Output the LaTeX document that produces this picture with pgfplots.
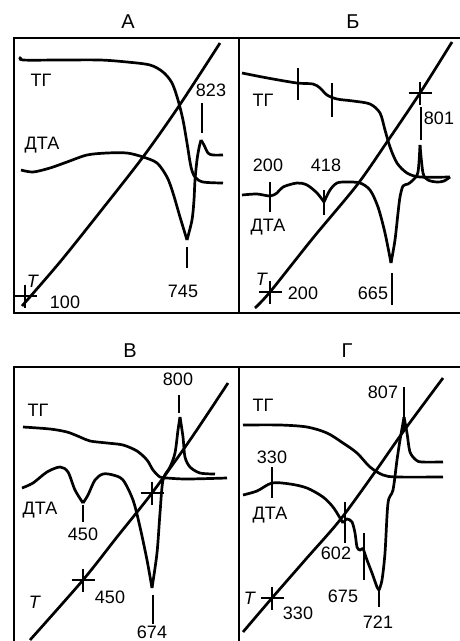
\documentclass[border=0pt]{standalone}
\usepackage{fontspec}
\setmainfont{Liberation Sans}
\usepackage{pgfplots}
\pgfplotsset{compat=1.18}
\begin{document}
\fontsize{18}{21}\selectfont
\begin{tikzpicture}[font=\fontsize{18}{21}\selectfont]
\useasboundingbox (0,0) rectangle (460pt,641pt);
\begin{axis}[
  scale only axis, width=460pt, height=641pt,
  xmin=0, xmax=460, ymin=0, ymax=641, y dir=reverse,
  hide axis, clip=false,
  curve/.style={line width=2.7pt, smooth, tension=0.5, mark=none, black},
  thin/.style={line width=1.1pt, mark=none, black},
  frame/.style={line width=2pt, mark=none, black},
  cross/.style={only marks, mark=+, mark size=11.5pt, mark options={line width=1.1pt}, black},
]
% frames
\addplot[frame] coordinates {(460,38) (14,38) (14,313) (460,313)};
\addplot[frame] coordinates {(239,38) (239,313)};
\addplot[frame] coordinates {(460,367) (14,367) (14,641)};
\addplot[frame] coordinates {(239,367) (239,641)};
% titles
\node[font=\fontsize{20}{23}\selectfont] at (axis cs:128,22) {А};
\node[font=\fontsize{20}{23}\selectfont] at (axis cs:353,22) {Б};
\node[font=\fontsize{20}{23}\selectfont] at (axis cs:130,351) {В};
\node[font=\fontsize{20}{23}\selectfont] at (axis cs:347,351) {Г};

% ===== Panel A =====
\addplot[curve] coordinates {(22,306) (60,262) (100,212) (143,157) (179,106) (220,43)};
\addplot[curve] coordinates {(21,57) (23,60) (60,60) (100,60) (127,62) (150,65) (163,72) (172,83) (178,100) (183,120) (187,143) (191,167) (195,177) (203,182) (223,183)};
\addplot[curve] coordinates {(21,170) (33,172) (50,168) (67,162) (87,155) (107,153) (127,153) (143,157) (157,163) (167,177) (173,193) (180,217) (187,240)};
\addplot[curve] coordinates {(187,240) (192,220) (194,200) (195,180) (197,160) (199,148) (201,140)};
\addplot[curve] coordinates {(201,140) (204,145) (208,153) (213,155) (223,155)};
\addplot[cross] coordinates {(25,296)};
\addplot[thin] coordinates {(187,247) (187,268)};
\addplot[thin] coordinates {(202,103) (202,133)};
\node[font=\fontsize{18}{21}\selectfont] at (axis cs:41,80) {ТГ};
\node[font=\fontsize{18}{21}\selectfont] at (axis cs:42,145) {ДТА};
\node[font=\fontsize{18}{21}\selectfont] at (axis cs:33,281) {\textit{T}};
\node[font=\fontsize{18}{21}\selectfont] at (axis cs:65,302) {100};
\node[font=\fontsize{18}{21}\selectfont] at (axis cs:183,291) {745};
\node[font=\fontsize{18}{21}\selectfont] at (axis cs:211,90) {823};

% ===== Panel B =====
\addplot[curve] coordinates {(255,308) (270,292) (313,238) (357,185) (387,142) (420,93) (452,42)};
\addplot[curve] coordinates {(242,73) (257,76) (273,79) (297,83) (313,84) (320,88) (327,95) (337,99) (353,101) (370,104) (380,113) (385,130) (390,147) (397,163) (407,173) (420,177) (450,177)};
\addplot[curve] coordinates {(242,195) (257,194) (270,196) (277,193) (283,187) (297,183) (307,185) (317,193) (324,202)};
\addplot[curve] coordinates {(324,202) (330,190) (337,183) (347,182) (360,183) (370,190) (378,207) (385,233) (391,263)};
\addplot[curve] coordinates {(391,263) (395,240) (398,213) (400,197) (403,186) (408,184) (413,180) (418,172) (420,145)};
\addplot[curve] coordinates {(420,145) (423,173) (428,180) (437,182) (444,181) (450,177)};
\addplot[cross] coordinates {(270,292) (420,93)};
\addplot[thin] coordinates {(298,68) (298,100)};
\addplot[thin] coordinates {(332,83) (332,117)};
\addplot[thin] coordinates {(421,107) (421,140)};
\addplot[thin] coordinates {(270,182) (270,212)};
\addplot[thin] coordinates {(324,190) (324,215)};
\addplot[thin] coordinates {(392,273) (392,305)};
\node[font=\fontsize{18}{21}\selectfont] at (axis cs:263,100) {ТГ};
\node[font=\fontsize{18}{21}\selectfont] at (axis cs:268,227) {ДТА};
\node[font=\fontsize{18}{21}\selectfont] at (axis cs:268,165) {200};
\node[font=\fontsize{18}{21}\selectfont] at (axis cs:326,165) {418};
\node[font=\fontsize{18}{21}\selectfont] at (axis cs:439,118) {801};
\node[font=\fontsize{18}{21}\selectfont] at (axis cs:373,293) {665};
\node[font=\fontsize{18}{21}\selectfont] at (axis cs:262,279) {\textit{T}};
\node[font=\fontsize{18}{21}\selectfont] at (axis cs:303,293) {200};

% ===== Panel V =====
\addplot[curve] coordinates {(30,640) (83,580) (117,537) (152,493) (190,440) (228,383)};
\addplot[curve] coordinates {(23,427) (50,429) (67,432) (80,437) (90,441) (107,443) (123,445) (137,451) (147,460) (153,470) (160,477) (167,478) (187,479) (227,478)};
\addplot[curve] coordinates {(22,488) (33,483) (47,472) (60,467) (68,472) (75,490) (83,503)};
\addplot[curve] coordinates {(83,503) (88,495) (95,480) (103,474) (113,475) (123,480) (133,500) (140,527) (147,560) (152,588)};
\addplot[curve] coordinates {(152,588) (157,553) (160,513) (163,480) (170,467) (175,453) (178,430) (180,417)};
\addplot[curve] coordinates {(180,417) (183,437) (185,457) (190,467) (200,473) (215,474)};
\addplot[cross] coordinates {(83,580) (152,493)};
\addplot[thin] coordinates {(83,505) (83,522)};
\addplot[thin] coordinates {(153,595) (153,624)};
\addplot[thin] coordinates {(179,395) (179,413)};
\node[font=\fontsize{18}{21}\selectfont] at (axis cs:38,410) {ТГ};
\node[font=\fontsize{18}{21}\selectfont] at (axis cs:40,510) {ДТА};
\node[font=\fontsize{18}{21}\selectfont] at (axis cs:83,534) {450};
\node[font=\fontsize{18}{21}\selectfont] at (axis cs:110,597) {450};
\node[font=\fontsize{18}{21}\selectfont] at (axis cs:35,602) {\textit{T}};
\node[font=\fontsize{18}{21}\selectfont] at (axis cs:152,632) {674};
\node[font=\fontsize{18}{21}\selectfont] at (axis cs:178,379) {800};

% ===== Panel G =====
\addplot[curve] coordinates {(243,632) (272,598) (306,559) (340,520) (375,472) (403,432) (443,378)};
\addplot[curve] coordinates {(243,425) (280,425) (307,427) (327,433) (343,443) (357,453) (370,467) (383,475) (397,477) (443,477)};
\addplot[curve] coordinates {(243,495) (257,491) (272,483) (290,484) (307,488) (323,497) (333,507) (340,518) (343,523)};
\addplot[curve] coordinates {(343,523) (347,519) (352,522) (355,533) (357,547) (360,550) (363,548)};
\addplot[curve] coordinates {(363,548) (367,560) (372,573) (377,587) (379,590)};
\addplot[curve] coordinates {(379,590) (382,580) (385,553) (388,503) (393,490) (397,460) (400,440) (403,423) (404,417)};
\addplot[curve] coordinates {(404,417) (407,433) (410,452) (416,460) (422,462) (443,462)};
\addplot[cross] coordinates {(272,598)};
\addplot[thin] coordinates {(272,467) (272,498)};
\addplot[thin] coordinates {(345,502) (345,543)};
\addplot[thin] coordinates {(364,533) (364,580)};
\addplot[thin] coordinates {(379,590) (379,607)};
\addplot[thin] coordinates {(404,387) (404,430)};
\node[font=\fontsize{18}{21}\selectfont] at (axis cs:263,405) {ТГ};
\node[font=\fontsize{18}{21}\selectfont] at (axis cs:270,515) {ДТА};
\node[font=\fontsize{18}{21}\selectfont] at (axis cs:272,457) {330};
\node[font=\fontsize{18}{21}\selectfont] at (axis cs:336,553) {602};
\node[font=\fontsize{18}{21}\selectfont] at (axis cs:343,596) {675};
\node[font=\fontsize{18}{21}\selectfont] at (axis cs:378,622) {721};
\node[font=\fontsize{18}{21}\selectfont] at (axis cs:383,392) {807};
\node[font=\fontsize{18}{21}\selectfont] at (axis cs:250,598) {\textit{T}};
\node[font=\fontsize{18}{21}\selectfont] at (axis cs:298,613) {330};
\end{axis}
\end{tikzpicture}
\end{document}
